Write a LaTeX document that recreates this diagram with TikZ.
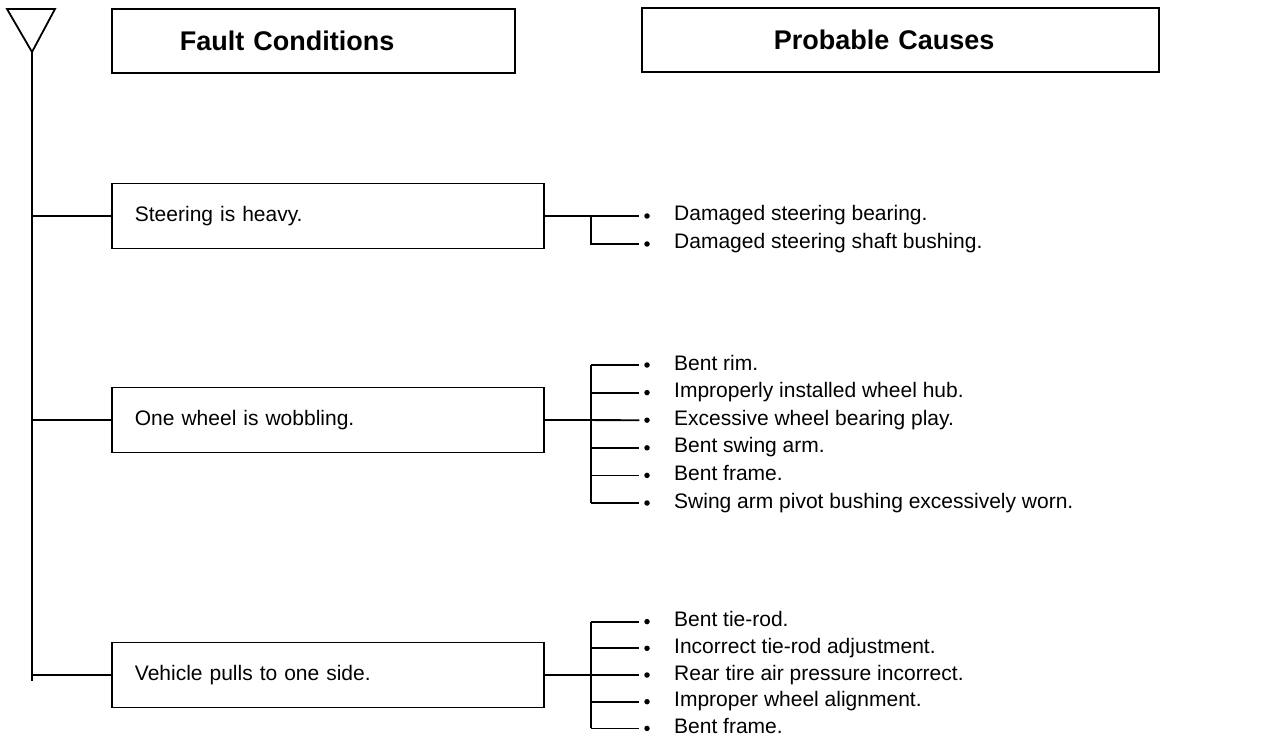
\documentclass[tikz,border=0pt]{standalone}
\usepackage{fontspec}
\setmainfont{Liberation Sans}
\usetikzlibrary{positioning}

\tikzset{
  condbox/.style={draw, line width=1.8pt, minimum height=65pt, text width=386pt,
    inner xsep=23pt, align=left, anchor=west, font=\fontsize{21}{25}\selectfont},
  headbox/.style={draw, line width=1.8pt, minimum height=64pt, align=left,
    anchor=west, font=\fontsize{27}{31}\selectfont\bfseries},
  causedot/.style={circle, fill, inner sep=0pt, minimum size=5.5pt, outer sep=5pt},
  causetext/.style={anchor=west, inner sep=0pt, text height=15pt, text depth=5pt,
    font=\fontsize{21}{25}\selectfont},
  wire/.style={line width=1.8pt},
}

\begin{document}
\begin{tikzpicture}[x=1pt, y=-1pt]
    \useasboundingbox (0,0) rectangle (1282,743);

    % headings
    \node[headbox, inner xsep=68pt, text width=267pt] (fault) at (111,41) {Fault Conditions};
    \node[headbox, inner xsep=132pt, text width=253pt] (cause) at (641,40) {Probable Causes};

    % trunk with the triangle on top
    \coordinate (apex) at (32,52);
    \coordinate (foot) at (32,681);
    \draw[wire, line join=miter] (7,9) -- (55,9) -- (apex) -- cycle;
    \draw[wire] (apex) -- (foot);

    % fault conditions
    \node[condbox] (steer) at (111,216) {Steering is heavy.};
    \node[condbox] (wobble) at (111,420) {One wheel is wobbling.};
    \node[condbox] (pulls) at (111,675) {Vehicle pulls to one side.};

    \coordinate (t1) at (32,216);
    \coordinate (t2) at (32,420);
    \coordinate (t3) at (32,675);
    \draw[wire] (t1) -- (steer);
    \draw[wire] (t2) -- (wobble);
    \draw[wire] (t3) -- (pulls);

    % causes: steering
    \node[causedot] (s1) at (647,216) {};
    \node[causedot] (s2) at (647,244) {};
    \node[causetext] at (674,216) {Damaged steering bearing.};
    \node[causetext] at (674,244) {Damaged steering shaft bushing.};
    \coordinate (sb1) at (591,216);
    \coordinate (sb2) at (591,244);
    \draw[wire] (steer.east) -- (s1);
    \draw[wire] (sb1) -- (sb2) -- (s2);

    % causes: wobbling
    \node[causedot] (w1) at (647,365) {};
    \node[causedot] (w2) at (647,392.6) {};
    \node[causedot] (w3) at (647,420.2) {};
    \node[causedot] (w4) at (647,447.8) {};
    \node[causedot] (w5) at (647,475.4) {};
    \node[causedot] (w6) at (647,503) {};
    \node[causetext] at (674,365) {Bent rim.};
    \node[causetext] at (674,392.6) {Improperly installed wheel hub.};
    \node[causetext] at (674,420.2) {Excessive wheel bearing play.};
    \node[causetext] at (674,447.8) {Bent swing arm.};
    \node[causetext] at (674,475.4) {Bent frame.};
    \node[causetext] at (674,503) {Swing arm pivot bushing excessively worn.};
    \coordinate (wb1) at (591,365);
    \coordinate (wb6) at (591,503);
    \draw[wire] (wobble.east) -- (w3);
    \draw[wire] (wb1) -- (wb6);
    \draw[wire] (wb1) -- (w1);
    \draw[wire] (wb1 |- w2) -- (w2);
    \draw[wire] (wb1 |- w4) -- (w4);
    \draw[wire] (wb1 |- w5) -- (w5);
    \draw[wire] (wb6) -- (w6);

    % causes: pulls to one side
    \node[causedot] (p1) at (647,621.6) {};
    \node[causedot] (p2) at (647,648.3) {};
    \node[causedot] (p3) at (647,675) {};
    \node[causedot] (p4) at (647,701.7) {};
    \node[causedot] (p5) at (647,728.4) {};
    \node[causetext] at (674,621.6) {Bent tie-rod.};
    \node[causetext] at (674,648.3) {Incorrect tie-rod adjustment.};
    \node[causetext] at (674,675) {Rear tire air pressure incorrect.};
    \node[causetext] at (674,701.7) {Improper wheel alignment.};
    \node[causetext] at (674,728.4) {Bent frame.};
    \coordinate (pb1) at (591,621.6);
    \coordinate (pb5) at (591,728.4);
    \draw[wire] (pulls.east) -- (p3);
    \draw[wire] (pb1) -- (pb5);
    \draw[wire] (pb1) -- (p1);
    \draw[wire] (pb1 |- p2) -- (p2);
    \draw[wire] (pb1 |- p4) -- (p4);
    \draw[wire] (pb5) -- (p5);
\end{tikzpicture}
\end{document}
